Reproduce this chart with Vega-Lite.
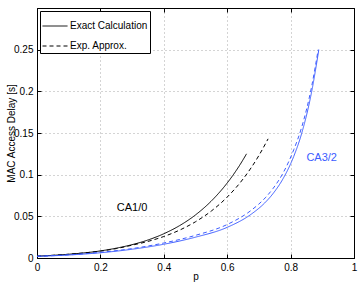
{
  "$schema": "https://vega.github.io/schema/vega-lite/v6.json",
  "width": 317,
  "height": 250,
  "autosize": "none",
  "padding": {"left": 37, "top": 8, "right": 6, "bottom": 26},
  "background": "white",
  "config": {
    "view": {"stroke": "black", "strokeWidth": 1},
    "font": "Liberation Sans",
    "axis": {
      "domainColor": "black",
      "tickColor": "black",
      "labelColor": "black",
      "titleColor": "black",
      "labelFont": "Liberation Sans",
      "titleFont": "Liberation Sans",
      "labelFontSize": 10,
      "titleFontSize": 10,
      "titleFontWeight": "normal",
      "gridColor": "#a8a8a8",
      "gridDash": [1, 3],
      "gridWidth": 1,
      "tickSize": -4,
      "domainWidth": 1
    }
  },
  "datasets": {
    "curves": [
      {"p": 0.0, "delay": 0.0022, "group": "CA1/0", "method": "Exact Calculation"},
      {"p": 0.1, "delay": 0.0045, "group": "CA1/0", "method": "Exact Calculation"},
      {"p": 0.2, "delay": 0.0085, "group": "CA1/0", "method": "Exact Calculation"},
      {"p": 0.25, "delay": 0.0118, "group": "CA1/0", "method": "Exact Calculation"},
      {"p": 0.3, "delay": 0.016, "group": "CA1/0", "method": "Exact Calculation"},
      {"p": 0.35, "delay": 0.0216, "group": "CA1/0", "method": "Exact Calculation"},
      {"p": 0.4, "delay": 0.0291, "group": "CA1/0", "method": "Exact Calculation"},
      {"p": 0.45, "delay": 0.0389, "group": "CA1/0", "method": "Exact Calculation"},
      {"p": 0.5, "delay": 0.0517, "group": "CA1/0", "method": "Exact Calculation"},
      {"p": 0.55, "delay": 0.0684, "group": "CA1/0", "method": "Exact Calculation"},
      {"p": 0.6, "delay": 0.09, "group": "CA1/0", "method": "Exact Calculation"},
      {"p": 0.617, "delay": 0.0987, "group": "CA1/0", "method": "Exact Calculation"},
      {"p": 0.64, "delay": 0.1117, "group": "CA1/0", "method": "Exact Calculation"},
      {"p": 0.661, "delay": 0.125, "group": "CA1/0", "method": "Exact Calculation"},

      {"p": 0.0, "delay": 0.0022, "group": "CA1/0", "method": "Exp. Approx."},
      {"p": 0.1, "delay": 0.0045, "group": "CA1/0", "method": "Exp. Approx."},
      {"p": 0.2, "delay": 0.0083, "group": "CA1/0", "method": "Exp. Approx."},
      {"p": 0.25, "delay": 0.0113, "group": "CA1/0", "method": "Exp. Approx."},
      {"p": 0.3, "delay": 0.0154, "group": "CA1/0", "method": "Exp. Approx."},
      {"p": 0.35, "delay": 0.0199, "group": "CA1/0", "method": "Exp. Approx."},
      {"p": 0.4, "delay": 0.0258, "group": "CA1/0", "method": "Exp. Approx."},
      {"p": 0.45, "delay": 0.0335, "group": "CA1/0", "method": "Exp. Approx."},
      {"p": 0.5, "delay": 0.0435, "group": "CA1/0", "method": "Exp. Approx."},
      {"p": 0.55, "delay": 0.0564, "group": "CA1/0", "method": "Exp. Approx."},
      {"p": 0.6, "delay": 0.0731, "group": "CA1/0", "method": "Exp. Approx."},
      {"p": 0.65, "delay": 0.0948, "group": "CA1/0", "method": "Exp. Approx."},
      {"p": 0.7, "delay": 0.123, "group": "CA1/0", "method": "Exp. Approx."},
      {"p": 0.729, "delay": 0.143, "group": "CA1/0", "method": "Exp. Approx."},

      {"p": 0.0, "delay": 0.002, "group": "CA3/2", "method": "Exact Calculation"},
      {"p": 0.1, "delay": 0.0036, "group": "CA3/2", "method": "Exact Calculation"},
      {"p": 0.2, "delay": 0.0063, "group": "CA3/2", "method": "Exact Calculation"},
      {"p": 0.3, "delay": 0.0105, "group": "CA3/2", "method": "Exact Calculation"},
      {"p": 0.4, "delay": 0.0165, "group": "CA3/2", "method": "Exact Calculation"},
      {"p": 0.5, "delay": 0.025, "group": "CA3/2", "method": "Exact Calculation"},
      {"p": 0.6, "delay": 0.0368, "group": "CA3/2", "method": "Exact Calculation"},
      {"p": 0.677, "delay": 0.0529, "group": "CA3/2", "method": "Exact Calculation"},
      {"p": 0.72, "delay": 0.0667, "group": "CA3/2", "method": "Exact Calculation"},
      {"p": 0.745, "delay": 0.0775, "group": "CA3/2", "method": "Exact Calculation"},
      {"p": 0.777, "delay": 0.0957, "group": "CA3/2", "method": "Exact Calculation"},
      {"p": 0.81, "delay": 0.122, "group": "CA3/2", "method": "Exact Calculation"},
      {"p": 0.835, "delay": 0.1496, "group": "CA3/2", "method": "Exact Calculation"},
      {"p": 0.867, "delay": 0.2007, "group": "CA3/2", "method": "Exact Calculation"},
      {"p": 0.889, "delay": 0.25, "group": "CA3/2", "method": "Exact Calculation"},

      {"p": 0.0, "delay": 0.0021, "group": "CA3/2", "method": "Exp. Approx."},
      {"p": 0.1, "delay": 0.0038, "group": "CA3/2", "method": "Exp. Approx."},
      {"p": 0.2, "delay": 0.0068, "group": "CA3/2", "method": "Exp. Approx."},
      {"p": 0.3, "delay": 0.0113, "group": "CA3/2", "method": "Exp. Approx."},
      {"p": 0.4, "delay": 0.018, "group": "CA3/2", "method": "Exp. Approx."},
      {"p": 0.5, "delay": 0.0272, "group": "CA3/2", "method": "Exp. Approx."},
      {"p": 0.6, "delay": 0.0402, "group": "CA3/2", "method": "Exp. Approx."},
      {"p": 0.677, "delay": 0.0576, "group": "CA3/2", "method": "Exp. Approx."},
      {"p": 0.72, "delay": 0.0722, "group": "CA3/2", "method": "Exp. Approx."},
      {"p": 0.745, "delay": 0.0836, "group": "CA3/2", "method": "Exp. Approx."},
      {"p": 0.777, "delay": 0.1025, "group": "CA3/2", "method": "Exp. Approx."},
      {"p": 0.81, "delay": 0.13, "group": "CA3/2", "method": "Exp. Approx."},
      {"p": 0.835, "delay": 0.157, "group": "CA3/2", "method": "Exp. Approx."},
      {"p": 0.867, "delay": 0.207, "group": "CA3/2", "method": "Exp. Approx."},
      {"p": 0.887, "delay": 0.25, "group": "CA3/2", "method": "Exp. Approx."}
    ],
    "labels": [
      {"p": 0.3, "delay": 0.06, "label": "CA1/0", "group": "CA1/0"},
      {"p": 0.898, "delay": 0.12, "label": "CA3/2", "group": "CA3/2"}
    ]
  },
  "resolve": {"axis": {"x": "independent", "y": "independent"}},
  "layer": [
    {
      "data": {"name": "curves"},
      "mark": {"type": "line", "strokeWidth": 1, "interpolate": "monotone", "clip": true},
      "encoding": {
        "x": {
          "field": "p", "type": "quantitative",
          "scale": {"domain": [0, 1], "nice": false, "zero": false},
          "axis": {"orient": "bottom", "title": "p", "values": [0, 0.2, 0.4, 0.6, 0.8, 1], "format": "~g", "grid": true, "labelPadding": 8, "labelFlush": false, "titleX": 158.5, "titleY": 18, "titleBaseline": "middle", "titleAlign": "center"}
        },
        "y": {
          "field": "delay", "type": "quantitative",
          "scale": {"domain": [0, 0.3], "nice": false, "zero": false},
          "axis": {"orient": "left", "title": "MAC Access Delay [s]", "values": [0, 0.05, 0.1, 0.15, 0.2, 0.25], "format": "~g", "grid": true, "labelPadding": 8, "labelFlush": false, "titleX": -26, "titleY": 125, "titleAngle": -90, "titleAlign": "center", "titleBaseline": "middle"}
        },
        "color": {
          "field": "group", "type": "nominal",
          "scale": {"domain": ["CA1/0", "CA3/2"], "range": ["#000000", "#3c5cff"]},
          "legend": null
        },
        "strokeDash": {
          "field": "method", "type": "nominal",
          "scale": {"domain": ["Exact Calculation", "Exp. Approx."], "range": [[1, 0], [4, 3]]},
          "legend": {
            "title": null,
            "orient": "top-left",
            "offset": 3,
            "padding": 2,
            "fillColor": "white",
            "strokeColor": "black",
            "cornerRadius": 0,
            "symbolType": "stroke",
            "symbolSize": 625,
            "symbolStrokeColor": "black",
            "symbolStrokeWidth": 1,
            "labelFont": "Liberation Sans",
            "labelFontSize": 10,
            "labelColor": "black",
            "labelOffset": 2,
            "rowPadding": 2
          }
        },
        "detail": {"field": "group"}
      }
    },
    {
      "data": {"name": "labels"},
      "mark": {"type": "text", "fontSize": 11, "font": "Liberation Sans", "align": "center", "baseline": "middle"},
      "encoding": {
        "x": {
          "field": "p", "type": "quantitative",
          "axis": {"orient": "top", "title": null, "labels": false, "values": [0, 0.2, 0.4, 0.6, 0.8, 1], "grid": false}
        },
        "y": {
          "field": "delay", "type": "quantitative",
          "axis": {"orient": "right", "title": null, "labels": false, "values": [0, 0.05, 0.1, 0.15, 0.2, 0.25], "grid": false}
        },
        "text": {"field": "label"},
        "color": {"field": "group", "type": "nominal", "legend": null}
      }
    }
  ]
}
